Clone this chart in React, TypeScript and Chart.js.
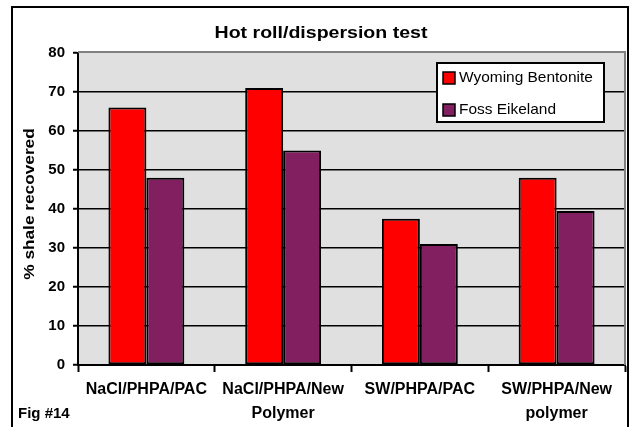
import React, { useEffect, useRef } from "react";
import { Chart, registerables } from "chart.js";

Chart.register(...registerables);

const FONT = "'Liberation Sans', Arial, Helvetica, sans-serif";

const chartTitle = "Hot roll/dispersion test";
const yAxisTitle = "% shale recovered";
const figLabel = "Fig #14";
const categories = [
  ["NaCl/PHPA/PAC"],
  ["NaCl/PHPA/New", "Polymer"],
  ["SW/PHPA/PAC"],
  ["SW/PHPA/New", "polymer"],
];
const seriesNames = ["Wyoming Bentonite", "Foss Eikeland"];
const wyomingBentonite = [66, 71, 37.5, 48];
const fossEikeland = [48, 55, 31, 39.5];
const yMin = 0;
const yMax = 80;
const yStep = 10;

const decorations = {
  id: "decorations",
  beforeDraw(chart: any) {
    const { ctx, chartArea: a } = chart;
    ctx.save();
    ctx.fillStyle = "#e0e0e0";
    ctx.fillRect(a.left, a.top, a.right - a.left, a.bottom - a.top);
    ctx.restore();
  },
  beforeDatasetsDraw(chart: any) {
    const { ctx, chartArea: a } = chart;
    ctx.save();
    ctx.strokeStyle = "#808080";
    ctx.lineWidth = 2;
    ctx.beginPath();
    ctx.moveTo(a.left, a.top - 1);
    ctx.lineTo(a.right, a.top - 1);
    ctx.lineTo(a.right, a.bottom);
    ctx.stroke();
    ctx.restore();
  },
  afterDraw(chart: any) {
    const { ctx } = chart;
    ctx.save();
    ctx.fillStyle = "#000";
    // title
    ctx.font = `bold 17px ${FONT}`;
    ctx.textAlign = "center";
    ctx.textBaseline = "middle";
    ctx.save();
    ctx.translate(321, 33);
    ctx.scale(1.15, 1);
    ctx.fillText(chartTitle, 0, 0);
    ctx.restore();
    // y axis title
    ctx.font = `bold 15px ${FONT}`;
    ctx.save();
    ctx.translate(30, 204);
    ctx.rotate(-Math.PI / 2);
    ctx.scale(1.15, 1);
    ctx.fillText(yAxisTitle, 0, 0);
    ctx.restore();
    // fig label
    ctx.textAlign = "left";
    ctx.font = `bold 15px ${FONT}`;
    ctx.fillText(figLabel, 18, 414);
    // legend
    const lx = 437, ly = 63, lw = 167, lh = 59;
    ctx.fillStyle = "#fff";
    ctx.fillRect(lx, ly, lw, lh);
    ctx.strokeStyle = "#000";
    ctx.lineWidth = 2;
    ctx.strokeRect(lx, ly, lw, lh);
    ctx.font = `15px ${FONT}`;
    chart.data.datasets.forEach((ds: any, i: number) => {
      const cy = 78 + i * 32;
      ctx.fillStyle = ds.backgroundColor;
      ctx.fillRect(443, cy - 6, 12, 12);
      ctx.lineWidth = 1.5;
      ctx.strokeStyle = "#000";
      ctx.strokeRect(443, cy - 6, 12, 12);
      ctx.fillStyle = "#000";
      ctx.save();
      ctx.translate(459, cy);
      ctx.scale(1.03, 1);
      ctx.fillText(ds.label, 0, 0);
      ctx.restore();
    });
    // outer frame
    ctx.strokeStyle = "#000";
    ctx.lineWidth = 2;
    ctx.strokeRect(12, 7, 616, 500);
    ctx.restore();
  },
};

export default function App() {
  const ref = useRef<HTMLCanvasElement | null>(null);
  useEffect(() => {
    if (!ref.current) return;
    Chart.defaults.font.family = FONT;
    const chart = new Chart(ref.current, {
      type: "bar",
      data: {
        labels: categories,
        datasets: [
          {
            label: seriesNames[0],
            data: wyomingBentonite,
            backgroundColor: "#ff0000",
            borderColor: "#000",
            borderWidth: 2,
            borderSkipped: false,
          },
          {
            label: seriesNames[1],
            data: fossEikeland,
            backgroundColor: "#821f60",
            borderColor: "#000",
            borderWidth: 2,
            borderSkipped: false,
          },
        ],
      },
      options: {
        responsive: false,
        animation: false,
        layout: { padding: { left: 0, top: 53, right: 10, bottom: 0 } },
        datasets: { bar: { categoryPercentage: 0.555, barPercentage: 1 } },
        plugins: {
          legend: { display: false },
          title: { display: false },
          tooltip: { enabled: false },
        },
        scales: {
          x: {
            offset: true,
            grid: {
              offset: true,
              drawOnChartArea: false,
              drawTicks: true,
              tickLength: 7,
              tickColor: "#000",
              tickWidth: 2,
            },
            border: { color: "#000", width: 2 },
            ticks: {
              color: "#000",
              font: { size: 16, weight: "bold", lineHeight: 1.5 },
              padding: 6,
              maxRotation: 0,
              autoSkip: false,
            },
            afterFit(scale: any) {
              scale.height = 62;
            },
          },
          y: {
            min: yMin,
            max: yMax,
            ticks: {
              stepSize: yStep,
              color: "#000",
              font: { size: 15, weight: "bold" },
              padding: 8,
            },
            grid: {
              color: (c: any) => (c.tick && c.tick.value === yMax ? "rgba(0,0,0,0)" : "#000"),
              lineWidth: 1.5,
              tickLength: 5,
              tickColor: "#000",
              tickWidth: 2,
            },
            border: { color: "#000", width: 2 },
            afterFit(scale: any) {
              scale.width = 78;
            },
          },
        },
      },
      plugins: [decorations],
    } as any);
    return () => chart.destroy();
  }, []);
  return (
    <canvas
      ref={ref}
      width={635}
      height={427}
      style={{ position: "absolute", left: 0, top: 0, width: 635, height: 427, display: "block" }}
    />
  );
}
